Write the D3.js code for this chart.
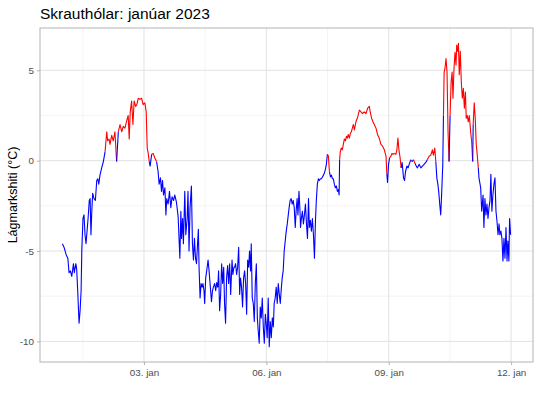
<!DOCTYPE html>
<html>
<head>
<meta charset="utf-8">
<script src="https://cdn.jsdelivr.net/npm/d3@7"></script>
<style>
  body { margin: 0; background: #fff; }
  text { font-family: "Liberation Sans", Arial, sans-serif; }
</style>
</head>
<body>
<div id="chart"></div>
<script>

// hours after 2023-01-01 00:00 and the ground temperature read at that time
const hours = [
    0.0, 1.0, 2.2, 3.2, 3.9, 4.7, 5.5, 6.5, 7.0, 7.9, 8.4, 9.0, 9.4, 9.8, 10.4, 11.0, 11.4, 12.1, 12.7, 13.3,
    13.9, 14.5, 15.1, 15.8, 16.3, 16.8, 17.3, 17.8, 18.6, 19.4, 20.2, 20.8, 21.4, 22.1, 23.1, 24.1, 25.1, 26.1, 26.6, 27.4,
    28.0, 29.0, 29.9, 30.9, 31.9, 32.9, 33.9, 34.9, 35.8, 36.8, 37.8, 38.7, 39.3, 39.9, 40.7, 41.5, 42.2, 43.1, 43.8, 44.6,
    45.6, 46.6, 47.5, 48.5, 49.3, 49.9, 50.5, 51.1, 51.6, 52.5, 53.4, 54.4, 55.4, 56.3, 56.9, 57.7, 58.3, 58.9, 59.5, 60.3,
    60.9, 61.4, 62.2, 63.0, 63.8, 64.5, 65.4, 66.1, 67.1, 68.1, 69.1, 69.7, 70.1, 70.7, 71.2, 72.0, 72.6, 73.4, 73.9, 74.5,
    75.1, 75.9, 76.5, 77.1, 77.7, 78.3, 78.9, 79.4, 80.0, 80.4, 81.0, 81.6, 82.2, 82.7, 83.3, 83.7, 84.3, 84.9, 85.7, 86.3,
    86.8, 87.7, 88.3, 88.8, 89.6, 90.2, 90.8, 91.4, 91.9, 92.5, 93.1, 93.7, 94.3, 94.9, 95.4, 96.0, 96.6, 97.2, 97.8, 98.4,
    99.0, 99.8, 100.3, 100.9, 101.3, 101.9, 102.5, 103.1, 103.7, 104.3, 104.8, 105.4, 106.0, 106.6, 107.2, 107.8, 108.4, 109.0, 109.6, 110.1,
    110.7, 111.1, 111.7, 112.3, 112.9, 113.5, 114.1, 114.7, 115.2, 115.8, 116.4, 117.0, 117.6, 118.2, 118.8, 119.4, 119.9, 120.5, 121.1, 121.7,
    122.3, 122.9, 123.5, 124.1, 124.6, 125.2, 125.8, 126.4, 127.0, 127.6, 128.2, 128.7, 129.3, 129.9, 130.5, 131.1, 131.7, 132.3, 132.9, 133.4,
    134.0, 134.6, 135.2, 135.8, 136.4, 137.0, 137.5, 138.1, 138.6, 139.2, 139.8, 140.1, 140.6, 141.2, 141.8, 142.4, 143.0, 143.6, 144.2, 144.8,
    145.3, 145.9, 146.5, 147.1, 147.7, 148.3, 148.9, 149.4, 150.0, 150.6, 151.2, 151.8, 152.4, 153.0, 153.6, 154.1, 154.7, 155.3, 155.9, 156.5,
    157.1, 157.7, 158.3, 158.8, 159.4, 160.0, 160.6, 161.2, 161.8, 162.4, 162.8, 163.1, 163.5, 164.1, 164.7, 165.3, 165.9, 166.5, 167.1, 167.6,
    168.2, 168.8, 169.4, 170.0, 170.6, 171.2, 171.8, 172.7, 173.7, 174.7, 175.7, 176.6, 177.6, 178.6, 179.6, 180.6, 181.1, 181.9, 182.7, 183.5,
    184.5, 185.4, 186.4, 187.4, 188.4, 189.4, 190.4, 190.9, 191.3, 191.9, 192.5, 193.3, 193.9, 194.5, 195.2, 196.2, 196.8, 197.4, 198.0, 198.7,
    199.3, 199.9, 200.7, 201.3, 201.9, 202.7, 203.4, 204.2, 205.0, 205.8, 206.6, 207.4, 208.2, 208.9, 209.9, 210.9, 211.8, 212.8, 213.8, 214.7,
    215.7, 216.7, 217.7, 218.3, 219.1, 219.7, 220.3, 220.9, 221.4, 222.0, 222.6, 223.2, 223.8, 224.2, 224.6, 225.1, 225.7, 226.3, 226.9, 227.5,
    228.1, 228.7, 229.3, 229.8, 230.4, 231.0, 231.6, 232.0, 232.6, 233.0, 233.5, 234.1, 234.7, 235.3, 235.9, 236.5, 237.1, 237.6, 238.2, 238.8,
    239.4, 240.2, 240.8, 241.4, 241.7, 242.3, 242.9, 243.5, 244.1, 244.7, 245.1, 246.1, 246.7, 247.5, 248.0, 248.6, 249.2, 249.8, 250.4, 251.0,
    251.6, 252.1, 252.7, 253.3, 253.9, 254.5, 255.1, 255.7, 256.3, 256.9, 257.4, 258.0, 258.6, 259.2, 259.8, 260.4, 261.0, 261.6, 262.1, 262.7,
    263.1, 263.7
];

const temps = [
    -4.6, -4.8, -5.2, -5.4, -6.2, -6.1, -6.4, -5.7, -6.2, -5.7, -6.0, -7.2, -8.1, -9.0, -8.3, -7.2, -5.0, -3.2, -3.0, -4.1,
    -4.6, -3.9, -3.2, -2.2, -2.1, -4.1, -2.8, -1.8, -2.1, -2.2, -1.1, -1.0, -1.3, -0.8, -0.4, -0.05, 0.5, 1.6, 1.1, 1.2,
    0.9, 1.4, 1.1, 1.6, -0.05, 1.6, 2.0, 1.6, 1.9, 1.8, 2.2, 2.5, 1.2, 2.7, 3.3, 2.0, 3.3, 3.0, 3.1, 3.45,
    3.4, 3.45, 3.1, 3.2, 2.7, 0.7, 0.4, -0.05, -0.3, 0.35, 0.4, 0.15, -0.05, -0.6, -1.3, -0.95, -1.7, -1.1, -1.9, -1.5,
    -3.0, -2.1, -2.4, -1.7, -2.6, -2.0, -2.2, -1.9, -2.3, -3.1, -5.4, -2.8, -4.3, -3.2, -4.6, -1.7, -4.1, -3.2, -1.7, -5.0,
    -2.6, -1.4, -4.6, -5.5, -4.3, -5.4, -5.7, -4.8, -3.8, -5.9, -7.6, -6.8, -7.0, -6.8, -7.2, -7.9, -6.5, -6.1, -5.5, -6.1,
    -6.7, -7.8, -7.2, -7.0, -6.8, -7.2, -6.75, -7.0, -6.1, -8.3, -7.4, -5.7, -6.8, -5.9, -7.9, -9.0, -6.5, -5.8, -6.8, -5.7,
    -7.4, -5.5, -6.3, -5.9, -5.9, -5.7, -6.3, -5.9, -4.8, -7.4, -6.5, -7.0, -8.1, -6.5, -6.1, -6.8, -8.5, -5.5, -5.9, -5.0,
    -6.1, -4.6, -7.6, -7.9, -8.9, -6.8, -5.7, -8.7, -9.4, -10.1, -8.1, -8.7, -7.6, -9.2, -10.1, -8.5, -9.0, -9.8, -7.6, -10.3,
    -8.9, -9.8, -8.7, -9.2, -7.9, -7.6, -7.0, -7.9, -6.8, -7.4, -7.9, -7.2, -6.5, -6.1, -5.0, -4.45, -3.9, -3.5, -3.0, -2.6,
    -2.2, -2.1, -2.4, -2.2, -2.6, -3.7, -2.8, -2.1, -3.0, -1.7, -2.8, -3.7, -3.2, -2.8, -3.5, -3.0, -2.4, -3.5, -4.3, -2.1,
    -3.7, -3.3, -3.9, -3.2, -4.1, -5.4, -3.3, -2.2, -1.3, -1.0, -1.1, -1.0, -1.0, -0.9, -0.8, -0.7, -0.5, -0.2, 0.35, 0.25,
    -0.6, -0.9, -0.8, -1.0, -1.0, -1.3, -1.5, -1.4, -1.7, -1.6, -1.9, 0.05, 0.5, 0.7, 0.6, 0.9, 1.2, 1.1, 1.35, 1.25,
    1.45, 1.25, 1.5, 1.6, 1.8, 2.0, 1.7, 2.15, 2.4, 2.8, 2.7, 2.6, 2.7, 2.6, 2.9, 3.0, 2.7, 2.35, 2.15, 2.0,
    1.8, 1.45, 1.25, 0.9, 0.8, 0.6, 0.25, -0.75, -1.2, -0.2, 0.15, 0.25, 0.4, 0.35, 0.4, 0.35, 0.6, 1.25, 0.6, 0.15,
    -0.4, -0.1, -0.95, -1.1, -0.6, -0.3, -0.4, -0.15, 0.05, -0.05, 0.05, -0.15, -0.3, -0.4, -0.2, -0.4, -0.3, -0.2, -0.1, 0.05,
    0.25, 0.3, 0.6, 0.3, 0.7, -0.05, -0.95, -1.3, -1.7, -2.4, -3.0, -1.7, -0.2, 2.5, 4.9, 5.1, 5.65, 4.9, 1.6, -0.05,
    2.5, 4.35, 4.9, 3.45, 5.1, 6.0, 5.3, 6.4, 6.05, 6.5, 4.75, 6.05, 4.35, 3.45, 4.0, 2.9, 3.8, 2.35, 2.5, 2.15,
    2.5, 1.6, 1.05, -0.05, 2.0, 3.2, 2.35, 0.9, 0.3, -0.4, -0.95, -1.5, -2.8, -1.9, -3.7, -2.1, -3.0, -2.4, -3.2, -2.6,
    -2.2, -0.75, -2.8, -1.9, -1.3, -0.95, -2.8, -3.35, -4.1, -3.5, -4.1, -3.9, -4.3, -5.55, -4.3, -5.4, -3.7, -5.55, -4.45, -5.55,
    -3.2, -4.1
];

const tickDays = [3, 6, 9, 12];
const tickLabels = ['03. jan', '06. jan', '09. jan', '12. jan'];
const minorDays = [1.5, 4.5, 7.5, 10.5];
const yTicks = [5, 0, -5, -10];
const yMinor = [2.5, -2.5, -7.5];

const titleText = 'Skrauthólar: janúar 2023';
const yTitle = 'Lágmarkshiti (°C)';

const start = Date.UTC(2023, 0, 1);
const data = hours.map((h, i) => ({ date: new Date(start + h * 3600e3), temp: temps[i] }));
const dayDate = d => new Date(start + (d - 1) * 864e5);

const svgWidth = 540;
const svgHeight = 398;
const margin = { top: 28, right: 7, bottom: 36, left: 40 };
const width = svgWidth - margin.left - margin.right;
const height = svgHeight - margin.top - margin.bottom;

const svg = d3.select('#chart')
    .append('svg')
    .attr('width', svgWidth)
    .attr('height', svgHeight);

const bounds = svg.append('g')
    .attr('transform', `translate(${margin.left}, ${margin.top})`);

// ggplot style 5% expansion
const xExt = d3.extent(data, d => d.date);
const xPad = (xExt[1] - xExt[0]) * 0.05;
const xScale = d3.scaleUtc()
    .domain([new Date(+xExt[0] - xPad), new Date(+xExt[1] + xPad)])
    .range([0, width]);

const yExt = d3.extent(data, d => d.temp);
const yPad = (yExt[1] - yExt[0]) * 0.05;
const yScale = d3.scaleLinear()
    .domain([yExt[0] - yPad, yExt[1] + yPad])
    .range([height, 0]);

// grid
bounds.selectAll('.xminor')
    .data(minorDays)
    .join('line')
    .attr('x1', d => xScale(dayDate(d))).attr('x2', d => xScale(dayDate(d)))
    .attr('y1', 0).attr('y2', height)
    .attr('stroke', '#ececec').attr('stroke-width', 0.6);

bounds.selectAll('.yminor')
    .data(yMinor)
    .join('line')
    .attr('y1', d => yScale(d)).attr('y2', d => yScale(d))
    .attr('x1', 0).attr('x2', width)
    .attr('stroke', '#ececec').attr('stroke-width', 0.6);

bounds.selectAll('.xmajor')
    .data(tickDays)
    .join('line')
    .attr('x1', d => xScale(dayDate(d))).attr('x2', d => xScale(dayDate(d)))
    .attr('y1', 0).attr('y2', height)
    .attr('stroke', '#e2e2e2').attr('stroke-width', 1);

bounds.selectAll('.ymajor')
    .data(yTicks)
    .join('line')
    .attr('y1', d => yScale(d)).attr('y2', d => yScale(d))
    .attr('x1', 0).attr('x2', width)
    .attr('stroke', '#e2e2e2').attr('stroke-width', 1);

// line, coloured by sign of the starting point of each step
const colour = d => d.temp > 0 ? '#ff0000' : '#0000ff';
const runs = [];
let run = null;
for (let i = 0; i < data.length - 1; i++) {
    const c = colour(data[i]);
    if (!run || run.c !== c) {
        run = { c, pts: [data[i]] };
        runs.push(run);
    }
    run.pts.push(data[i + 1]);
}

const line = d3.line()
    .x(d => xScale(d.date))
    .y(d => yScale(d.temp));

bounds.selectAll('.run')
    .data(runs)
    .join('path')
    .attr('d', d => line(d.pts))
    .attr('fill', 'none')
    .attr('stroke', d => d.c)
    .attr('stroke-width', 1.1)
    .attr('stroke-linejoin', 'round');

// panel border
bounds.append('rect')
    .attr('width', width).attr('height', height)
    .attr('fill', 'none')
    .attr('stroke', '#b3b3b3').attr('stroke-width', 1);

// axes
const xAxis = bounds.append('g')
    .attr('transform', `translate(0, ${height})`)
    .call(d3.axisBottom(xScale)
        .tickValues(tickDays.map(dayDate))
        .tickFormat((d, i) => tickLabels[i])
        .tickSize(3).tickPadding(4));

const yAxis = bounds.append('g')
    .call(d3.axisLeft(yScale)
        .tickValues(yTicks)
        .tickFormat(d => d)
        .tickSize(3).tickPadding(3));

[xAxis, yAxis].forEach(g => {
    g.select('.domain').remove();
    g.selectAll('line').attr('stroke', '#b3b3b3');
    g.selectAll('text')
        .attr('fill', '#4d4d4d')
        .style('font-size', '9.8px')
        .style('font-family', '"Liberation Sans", Arial, sans-serif');
});

svg.append('text')
    .attr('x', margin.left)
    .attr('y', 19)
    .attr('font-size', '15.5px')
    .attr('fill', '#000')
    .text(titleText);

svg.append('text')
    .attr('transform', `translate(17, ${margin.top + height / 2}) rotate(-90)`)
    .attr('text-anchor', 'middle')
    .attr('font-size', '12.5px')
    .attr('fill', '#000')
    .text(yTitle);

</script>
</body>
</html>
